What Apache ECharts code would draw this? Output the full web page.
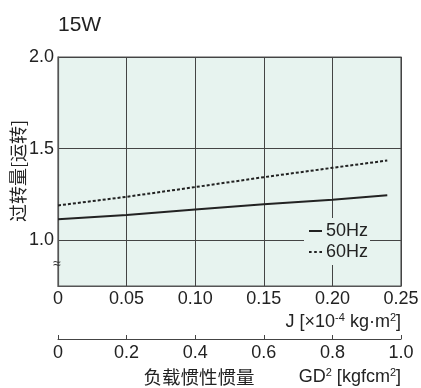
<!DOCTYPE html>
<html>
<head>
<meta charset="utf-8">
<script src="https://cdn.jsdelivr.net/npm/echarts@6/dist/echarts.min.js"></script>
<style>
  html, body { margin: 0; padding: 0; background: #fff; }
  #main { width: 421px; height: 388px; }
</style>
</head>
<body>
<div id="main"></div>
<script>
// load inertia J [x10^-4 kg·m2]
var jValues = [0, 0.05, 0.10, 0.15, 0.20, 0.24];
// overrun [revolutions]
var hz50 = [1.114, 1.137, 1.167, 1.196, 1.221, 1.245];
var hz60 = [1.19, 1.237, 1.29, 1.344, 1.395, 1.435];
var seriesNames = ["50Hz", "60Hz"];
var yTickLabels = ["1.0", "1.5", "2.0"];

var font = "Liberation Sans, Arial, sans-serif";
var cjk = "Noto Sans CJK SC, sans-serif";
var plotBg = "#e7f3ef";
var ink = "#222";

function pairs(xs, ys) {
  return xs.map(function (x, i) {
    return [x, ys[i]];
  });
}

var chart = echarts.init(document.getElementById("main"));

var option = {
  animation: false,
  textStyle: { fontFamily: font, color: ink },
  grid: {
    left: 58,
    right: 20,
    top: 57,
    bottom: 102,
    show: true,
    backgroundColor: plotBg,
    borderColor: "#555",
    borderWidth: 1.2,
    outerBoundsMode: "none"
  },
  legend: {
    orient: "vertical",
    left: 304,
    top: 218,
    padding: [4, 2, 4, 5],
    itemGap: 3,
    itemWidth: 13,
    itemHeight: 2,
    backgroundColor: plotBg,
    data: [
      { name: seriesNames[0], icon: "path://M0,0H13V2H0Z" },
      { name: seriesNames[1], icon: "path://M0,0H2.6V2H0Z M5.2,0H7.8V2H5.2Z M10.4,0H13V2H10.4Z" }
    ],
    textStyle: { fontSize: 18, color: ink, fontFamily: font, padding: [0, 0, 0, -1] }
  },
  xAxis: [
    {
      type: "value",
      min: 0,
      max: 0.25,
      interval: 0.05,
      position: "bottom",
      axisLine: { show: true, lineStyle: { color: "#555", width: 1.2 } },
      axisTick: { show: false },
      splitLine: { show: true, lineStyle: { color: "#444", width: 1 } },
      axisLabel: {
        fontSize: 18,
        color: ink,
        margin: 4,
        formatter: function (v) {
          return v === 0 ? "0" : v.toFixed(2);
        }
      }
    },
    {
      type: "value",
      min: 0,
      max: 1.0,
      interval: 0.2,
      position: "bottom",
      offset: 53,
      axisLine: { show: true, lineStyle: { color: "#444", width: 1 } },
      axisTick: { show: true, inside: true, length: 4, lineStyle: { color: "#444" } },
      splitLine: { show: false },
      axisLabel: {
        fontSize: 18,
        color: ink,
        margin: 5,
        formatter: function (v) {
          return v === 0 ? "0" : v.toFixed(1);
        }
      }
    }
  ],
  yAxis: {
    type: "value",
    min: 0.75,
    max: 2.0,
    interval: 0.25,
    axisLine: { show: true, lineStyle: { color: "#555", width: 1.2 } },
    axisTick: { show: false },
    splitLine: {
      show: true,
      lineStyle: { color: ["transparent", "#444"], width: 1 }
    },
    axisLabel: {
      fontSize: 18,
      color: ink,
      margin: 4,
      formatter: function (v) {
        var s = v.toFixed(1);
        return yTickLabels.indexOf(s) >= 0 && Math.abs(v * 2 - Math.round(v * 2)) < 1e-6 ? s : "";
      }
    }
  },
  series: [
    {
      name: seriesNames[0],
      type: "line",
      data: pairs(jValues, hz50),
      symbol: "none",
      lineStyle: { color: ink, width: 2 },
      itemStyle: { color: ink },
      z: 3
    },
    {
      name: seriesNames[1],
      type: "line",
      data: pairs(jValues, hz60),
      symbol: "none",
      lineStyle: { color: ink, width: 2, type: [3, 2] },
      itemStyle: { color: ink },
      z: 3
    }
  ],
  graphic: [
    {
      type: "text",
      left: 58,
      top: 15,
      style: { text: "15W", fontSize: 21, fontFamily: font, fill: ink }
    },
    {
      type: "text",
      x: 18,
      y: 171,
      rotation: Math.PI / 2,
      style: {
        text: "过转量[运转]",
        fontSize: 18,
        fontFamily: cjk,
        fill: ink,
        align: "center",
        verticalAlign: "middle"
      }
    },
    {
      type: "text",
      x: 401,
      y: 322,
      style: {
        text: "J [×10{sup|-4} kg·m{sup|2}]",
        fontSize: 18,
        fontFamily: font,
        fill: ink,
        align: "right",
        verticalAlign: "middle",
        rich: {
          sup: { fontSize: 11, verticalAlign: "top", padding: [0, 0, 8, 0], fill: ink }
        }
      }
    },
    {
      type: "text",
      x: 199,
      y: 377,
      style: {
        text: "负载惯性惯量",
        fontSize: 18.5,
        fontFamily: cjk,
        fill: ink,
        align: "center",
        verticalAlign: "middle"
      }
    },
    {
      type: "text",
      x: 401,
      y: 377,
      style: {
        text: "GD{sup|2} [kgfcm{sup|2}]",
        fontSize: 18,
        fontFamily: font,
        fill: ink,
        align: "right",
        verticalAlign: "middle",
        rich: {
          sup: { fontSize: 11, verticalAlign: "top", padding: [0, 0, 8, 0], fill: ink }
        }
      }
    },
    {
      type: "text",
      x: 57,
      y: 264,
      z: 10,
      style: {
        text: "≈",
        fontSize: 14,
        fontFamily: font,
        fill: "#333",
        align: "center",
        verticalAlign: "middle"
      }
    }
  ]
};

chart.setOption(option);
</script>
</body>
</html>
